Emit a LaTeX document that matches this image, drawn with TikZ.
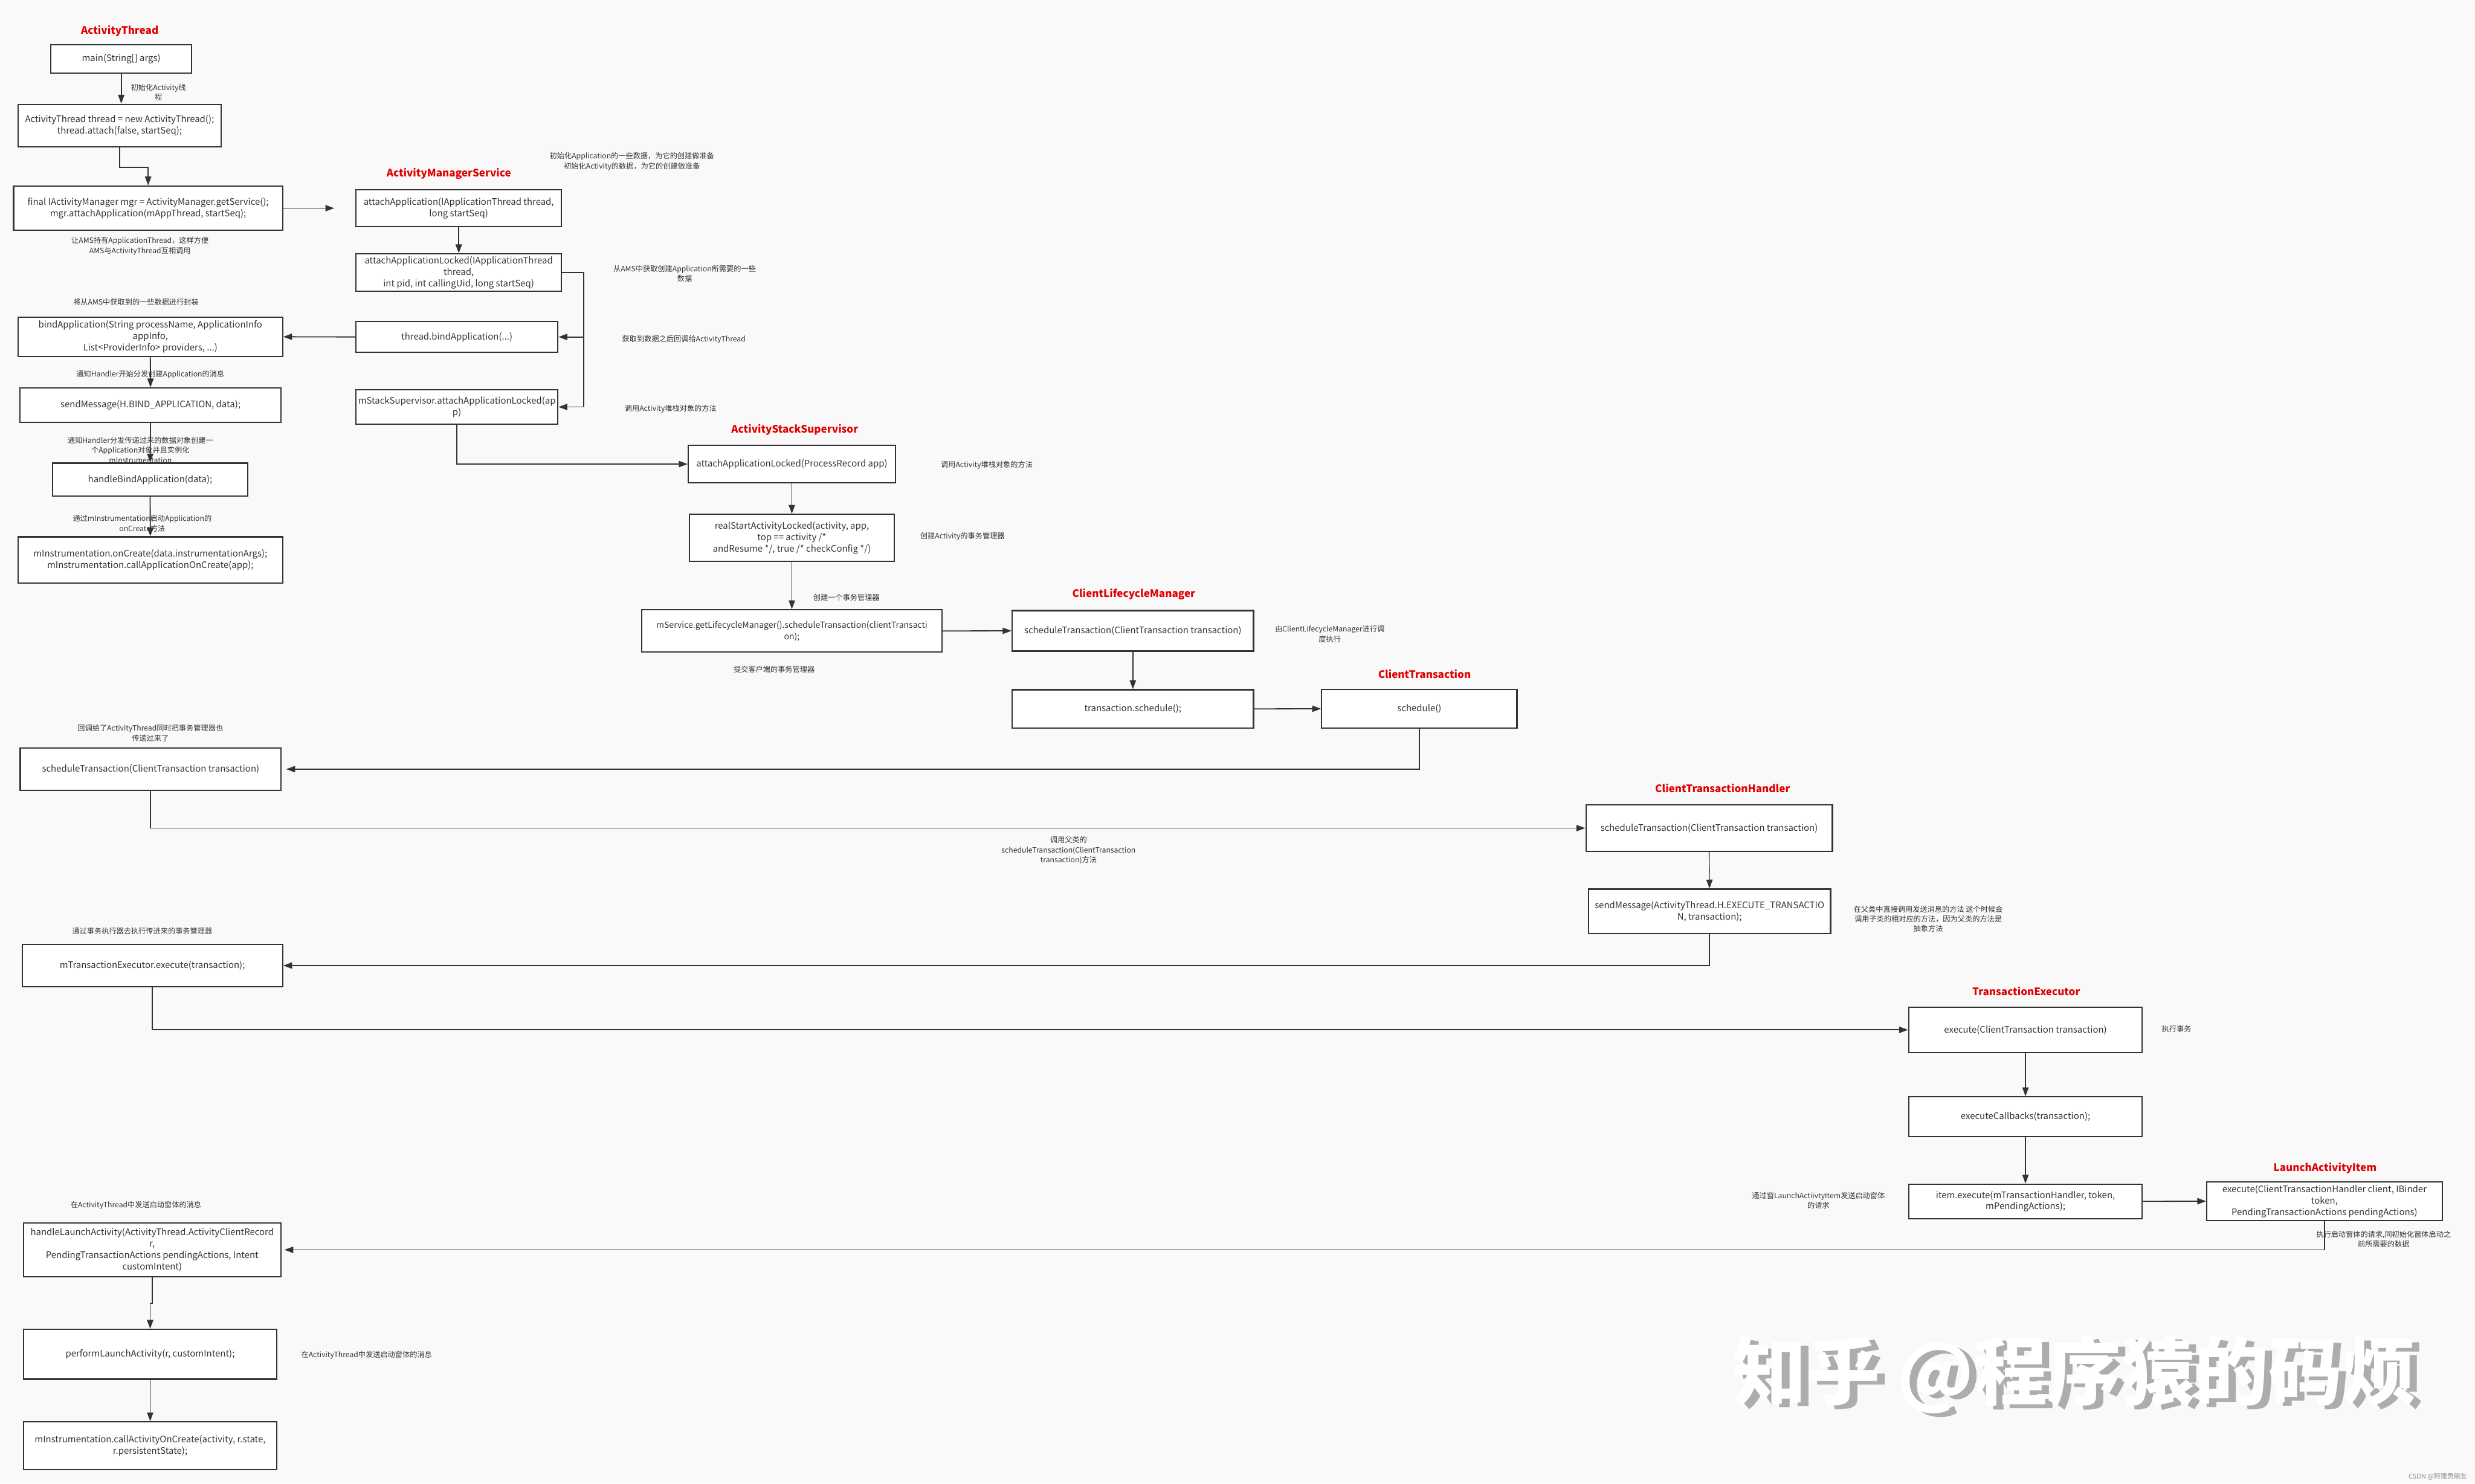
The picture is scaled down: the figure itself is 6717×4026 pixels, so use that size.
\documentclass[tikz,border=0pt]{standalone}
\usepackage{fontspec}
\setmainfont{Noto Sans CJK SC}
\usetikzlibrary{arrows.meta,calc}
\definecolor{bgc}{HTML}{F9F9F9}
\definecolor{lc}{HTML}{333333}
\definecolor{redt}{HTML}{E00000}
\definecolor{wmshadow}{HTML}{ADADAD}
\definecolor{csdn}{HTML}{8A8A8A}
\begin{document}
\begin{tikzpicture}[x=1pt,y=-1pt,
  box/.style={draw=lc, line width=3.5pt, fill=white, align=center, inner sep=3pt,
    font=\fontsize{24.5}{31}\selectfont, text=lc},
  ttl/.style={text=redt, font=\fontsize{28}{32}\selectfont\bfseries},
  note/.style={text=lc, align=center, font=\fontsize{20}{27}\selectfont},
  arr/.style={draw=lc, line width=3pt, -{Triangle[length=24pt,width=17pt]}},
  plain/.style={draw=lc, line width=3pt}]

\useasboundingbox (0,0) rectangle (6717,4026);
\fill[bgc] (0,0) rectangle (6717,4026);

% ---------------- titles ----------------
\node[ttl] (tAT)  at (325,84)    {ActivityThread};
\node[ttl] (tAMS) at (1218,472)  {ActivityManagerService};
\node[ttl] (tASS) at (2157,1166) {ActivityStackSupervisor};
\node[ttl] (tCLM) at (3077,1612) {ClientLifecycleManager};
\node[ttl] (tCT)  at (3866,1829) {ClientTransaction};
\node[ttl] (tCTH) at (4675,2140) {ClientTransactionHandler};
\node[ttl] (tTE)  at (5499,2690) {TransactionExecutor};
\node[ttl] (tLAI) at (6310,3171) {LaunchActivityItem};

% ---------------- ActivityThread (application) ----------------
\node[box, minimum width=382pt, minimum height=77pt] (b1) at (329,159.5) {main(String[] args)};
\node[box, minimum width=551pt, minimum height=116pt] (b2) at (324.5,341)
  {ActivityThread thread = new ActivityThread();\\thread.attach(false, startSeq);};
\node[box, minimum width=730pt, minimum height=120pt] (b3) at (402,565)
  {final IActivityManager mgr = ActivityManager.getService();\\mgr.attachApplication(mAppThread, startSeq);};
\node[box, minimum width=718pt, minimum height=106pt] (b4) at (408,914)
  {bindApplication(String processName, ApplicationInfo\\appInfo,\\List<ProviderInfo> providers, ...)};
\node[box, minimum width=709pt, minimum height=93pt] (b5) at (408.5,1099.5)
  {sendMessage(H.BIND\_APPLICATION, data);};
\node[box, minimum width=531pt, minimum height=90pt] (b6) at (407.5,1302)
  {handleBindApplication(data);};
\node[box, minimum width=718pt, minimum height=126pt] (b7) at (408,1520)
  {mInstrumentation.onCreate(data.instrumentationArgs);\\mInstrumentation.callApplicationOnCreate(app);};

% ---------------- ActivityManagerService ----------------
\node[box, minimum width=558pt, minimum height=100pt] (a1) at (1245,565)
  {attachApplication(IApplicationThread thread,\\long startSeq)};
\node[box, minimum width=558pt, minimum height=102pt] (a2) at (1245,740)
  {attachApplicationLocked(IApplicationThread\\thread,\\int pid, int callingUid, long startSeq)};
\node[box, minimum width=548pt, minimum height=83pt] (a3) at (1240,914.5)
  {thread.bindApplication(...)};
\node[box, minimum width=548pt, minimum height=93pt] (a4) at (1240,1104.5)
  {mStackSupervisor.attachApplicationLocked(ap\\p)};

% ---------------- ActivityStackSupervisor ----------------
\node[box, minimum width=562pt, minimum height=101pt] (s1) at (2149,1259.5)
  {attachApplicationLocked(ProcessRecord app)};
\node[box, minimum width=556pt, minimum height=128pt] (s2) at (2149,1460)
  {realStartActivityLocked(activity, app,\\top == activity /*\\andResume */, true /* checkConfig */)};
\node[box, minimum width=814pt, minimum height=115pt, font=\fontsize{23}{31}\selectfont] (s3) at (2149,1712.5)
  {mService.getLifecycleManager().scheduleTransaction(clientTransacti\\on);};

% ---------------- ClientLifecycleManager / ClientTransaction ----------------
\node[box, minimum width=655pt, minimum height=110pt] (c1) at (3074.5,1712)
  {scheduleTransaction(ClientTransaction transaction)};
\node[box, minimum width=655pt, minimum height=104pt] (c2) at (3074.5,1924)
  {transaction.schedule();};
\node[box, minimum width=530pt, minimum height=105pt] (t1) at (3852,1923.5)
  {schedule()};

% ---------------- back in ActivityThread ----------------
\node[box, minimum width=708pt, minimum height=115pt] (d1) at (409,2087.5)
  {scheduleTransaction(ClientTransaction transaction)};
\node[box, minimum width=669pt, minimum height=125pt] (h1) at (4638.5,2247.5)
  {scheduleTransaction(ClientTransaction transaction)};
\node[box, minimum width=657pt, minimum height=121pt] (h2) at (4639.5,2473.5)
  {sendMessage(ActivityThread.H.EXECUTE\_TRANSACTIO\\N, transaction);};
\node[box, minimum width=707pt, minimum height=115pt] (e1) at (413.5,2620.5)
  {mTransactionExecutor.execute(transaction);};

% ---------------- TransactionExecutor / LaunchActivityItem ----------------
\node[box, minimum width=634pt, minimum height=124pt] (x1) at (5497,2795)
  {execute(ClientTransaction transaction)};
\node[box, minimum width=634pt, minimum height=108pt] (x2) at (5497,3031)
  {executeCallbacks(transaction);};
\node[box, minimum width=634pt, minimum height=93pt] (x3) at (5497,3260.5)
  {item.execute(mTransactionHandler, token,\\mPendingActions);};
\node[box, minimum width=639pt, minimum height=106pt] (L1) at (6308.5,3260)
  {execute(ClientTransactionHandler client, IBinder\\token,\\PendingTransactionActions pendingActions)};

% ---------------- launch in ActivityThread ----------------
\node[box, minimum width=698pt, minimum height=146pt] (f1) at (413,3392)
  {handleLaunchActivity(ActivityThread.ActivityClientRecord\\r,\\PendingTransactionActions pendingActions, Intent\\customIntent)};
\node[box, minimum width=687pt, minimum height=135pt] (f2) at (407.5,3675.5)
  {performLaunchActivity(r, customIntent);};
\node[box, minimum width=687pt, minimum height=129pt] (f3) at (407.5,3923.5)
  {mInstrumentation.callActivityOnCreate(activity, r.state,\\r.persistentState);};

% ---------------- connectors ----------------
\draw[arr] (b1.south) -- (b1.south |- b2.north);
\draw[arr] (b2.south) -- ++(0,53) -| (b3.north);
\draw[arr, shorten >=57pt] (b3.east) -- (a1.west);
\draw[arr] (a1.south) -- (a2.north);
\coordinate (j1) at (1584,740);
\draw[plain] (a2.east) -- (j1);
\draw[arr] (j1) |- (a3.east);
\draw[arr] (j1) |- (a4.east);
\draw[arr] (a3.west) -- (b4.east);
\draw[arr] (b4.south) -- (b5.north);
\draw[arr] (b5.south) -- (b6.north);
\draw[arr] (b6.south) -- (b7.north);
\draw[arr] (a4.south) |- (s1.west);
\draw[arr] (s1.south) -- (s2.north);
\draw[arr] (s2.south) -- (s3.north);
\draw[arr] (s3.east) -- (c1.west);
\draw[arr, line width=2.2pt] (c1.south) -- (c2.north);
\draw[arr] (c2.east) -- (t1.west);
\draw[arr, shorten >=12pt] (t1.south) |- (d1.east);
\draw[arr] (d1.south) |- (h1.west);
\draw[arr, line width=2.2pt] (h1.south) -- (h2.north);
\draw[arr] (h2.south) |- (e1.east);
\draw[arr] (e1.south) |- (x1.west);
\draw[arr, line width=2.2pt] (x1.south) -- (x2.north);
\draw[arr, line width=2.2pt] (x2.south) -- (x3.north);
\draw[arr] (x3.east) -- (L1.west);
\draw[arr, shorten >=8pt] (L1.south) |- (f1.east);
\draw[arr] (f1.south) -- ++(0,70) -| (f2.north);
\draw[arr] (f2.south) -- (f3.north);

% ---------------- notes ----------------
\node[note] (n1) at (430,251) {初始化Activity线\\程};
\node[note] (n2) at (380,668) {让AMS持有ApplicationThread，这样方便\\AMS与ActivityThread互相调用};
\node[note] (n3) at (369,820) {将从AMS中获取到的一些数据进行封装};
\node[note] (n4) at (408,1017) {通知Handler开始分发创建Application的消息};
\node[note] (n5) at (381,1221) {通知Handler分发传递过来的数据对象创建一\\个Application对象并且实例化\\mInstrumentation};
\node[note] (n6) at (386,1421) {通过mInstrumentation启动Application的\\onCreate方法};
\node[note] (n7) at (1715,438) {初始化Application的一些数据，为它的创建做准备\\初始化Activity的数据，为它的创建做准备};
\node[note] (n8) at (1858,743) {从AMS中获取创建Application所需要的一些\\数据};
\node[note] (n9) at (1856,922) {获取到数据之后回调给ActivityThread};
\node[note] (n10) at (1820,1109) {调用Activity堆栈对象的方法};
\node[note] (n11) at (2678,1262) {调用Activity堆栈对象的方法};
\node[note] (n12) at (2612,1456) {创建Activity的事务管理器};
\node[note] (n13) at (2297,1621) {创建一个事务管理器};
\node[note] (n14) at (2101,1816) {提交客户端的事务管理器};
\node[note] (n15) at (3609,1721) {由ClientLifecycleManager进行调\\度执行};
\node[note] (n16) at (408,1990) {回调给了ActivityThread同时把事务管理器也\\传递过来了};
\node[note] (n17) at (2900,2308) {调用父类的\\scheduleTransaction(ClientTransaction\\transaction)方法};
\node[note] (n18) at (5233,2494) {在父类中直接调用发送消息的方法 这个时候会\\调用子类的相对应的方法，因为父类的方法是\\抽象方法};
\node[note] (n19) at (386,2527) {通过事务执行器去执行传进来的事务管理器};
\node[note] (n20) at (5907,2792) {执行事务};
\node[note] (n21) at (4935,3258) {通过窗LaunchActiivtyItem发送启动窗体\\的请求};
\node[note] (n22) at (6469,3363) {执行启动窗体的请求,同初始化窗体启动之\\前所需要的数据};
\node[note] (n23) at (369,3271) {在ActivityThread中发送启动窗体的消息};
\node[note] (n24) at (995,3678) {在ActivityThread中发送启动窗体的消息};

% ---------------- watermarks ----------------
\node[text=wmshadow, font=\fontsize{200}{200}\selectfont\bfseries] (wm2) at (5650,3740) {知乎 @程序猿的码烦};
\node[text=white, font=\fontsize{200}{200}\selectfont\bfseries] (wm1) at (5630,3730) {知乎 @程序猿的码烦};
\node[text=csdn, font=\fontsize{18}{20}\selectfont] (cs) at (6616,4008) {CSDN @阿狸男朋友};
\end{tikzpicture}
\end{document}
